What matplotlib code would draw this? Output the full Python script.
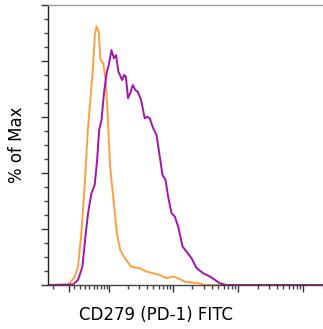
import numpy as np
import matplotlib
matplotlib.use("Agg")
import matplotlib.pyplot as plt

# FITC intensity (raw units) and % of Max
iso_x = [-40, -4.1, 1.8, 10.7, 16.8, 23.2, 30.0, 37.0, 42.2, 48.6, 52.8, 57.3,
         63.9, 68.9, 77.7, 85.9, 92.2, 102.6, 117, 133, 151, 180, 226, 304,
         389, 496, 627, 795, 1010, 1206, 1531, 2055, 2603, 2930, 203000]
iso_y = [0, 0, 0.6, 3.0, 6.5, 18.5, 36.3, 56.5, 66.1, 78.0, 88.7, 92.3,
         90.5, 80.4, 79.2, 73.2, 62.5, 42.3, 30.4, 18.5, 12.5, 9.5, 6.5, 6.0,
         4.8, 4.2, 3.6, 2.4, 3.0, 2.4, 1.2, 0.8, 0.6, 0, 0]

pd1_x = [-40, 7.7, 16.8, 25.2, 32.1, 37.0, 44.6, 52.8, 59.2, 65.0, 72.1, 80.0,
         88.9, 98.7, 108, 119, 129, 141, 162, 174, 186, 201, 218, 239, 263,
         286, 322, 367, 400, 440, 496, 559, 627, 691, 770, 845, 953, 1072,
         1206, 1409, 1625, 1940, 2313, 2930, 3710, 4430, 5290, 6700, 203000]
pd1_y = [0, 0.2, 1.8, 6.5, 18.5, 25.6, 32.7, 35.7, 44.6, 55.4, 58.9, 68.5,
         75.6, 79.2, 83.9, 81.0, 82.1, 76.2, 73.2, 75.0, 74.4, 66.7, 68.5,
         71.4, 69.6, 69.0, 66.1, 59.5, 60.1, 59.5, 56.0, 53.6, 45.8, 39.3,
         37.5, 31.5, 25.6, 24.4, 20.8, 13.7, 11.9, 9.5, 6.0, 4.2, 3.0, 1.8,
         0.6, 0, 0]

W = 50.0  # linear width of the biexponential-like axis


def fwd(v):
    return np.arcsinh(np.asarray(v) / W)


def inv(u):
    return W * np.sinh(np.asarray(u))


fig = plt.figure(figsize=(3.23, 3.29), dpi=100)
ax = fig.add_axes([48 / 323, 44 / 329, 1 - 48 / 323, 280 / 329])
ax.set_xscale("function", functions=(fwd, inv))

ax.plot(iso_x, iso_y, color="#FFA040", lw=1.4, solid_joinstyle="round")
ax.plot(pd1_x, pd1_y, color="#A314A8", lw=1.4, solid_joinstyle="round")

ax.set_xlim(-40, 203000)
ax.set_ylim(0, 100)

# x ticks: decades plus minor ticks
major_x = [0, 1e2, 1e3, 1e4, 1e5]
minor_x = [-30.0] + [k * 10.0 for k in range(1, 10)]
for d in [1e2, 1e3, 1e4]:
    minor_x += [k * d for k in range(2, 10)]
minor_x += [2e5]
ax.set_xticks(major_x)
ax.set_xticks(minor_x, minor=True)
ax.set_yticks(np.arange(0, 101, 20))
ax.set_yticks(np.arange(0, 101, 5), minor=True)
ax.tick_params(labelbottom=False, labelleft=False)
ax.tick_params(axis="both", which="major", length=5, width=1.0, color="#333333")
ax.tick_params(axis="both", which="minor", length=3, width=1.0, color="#444444")

ax.spines["right"].set_visible(False)
ax.spines["top"].set_color("#999999")
ax.spines["left"].set_color("#222222")
ax.spines["bottom"].set_color("#444444")
for s in ax.spines.values():
    s.set_linewidth(1.0)

fig.text(17 / 323, 1 - 145 / 329, "% of Max", rotation=90, fontsize=12,
         ha="center", va="center")
fig.text(156 / 323, 1 - 315 / 329, "CD279 (PD-1) FITC", fontsize=12,
         ha="center", va="center")

fig.savefig("out.png", dpi=100)
